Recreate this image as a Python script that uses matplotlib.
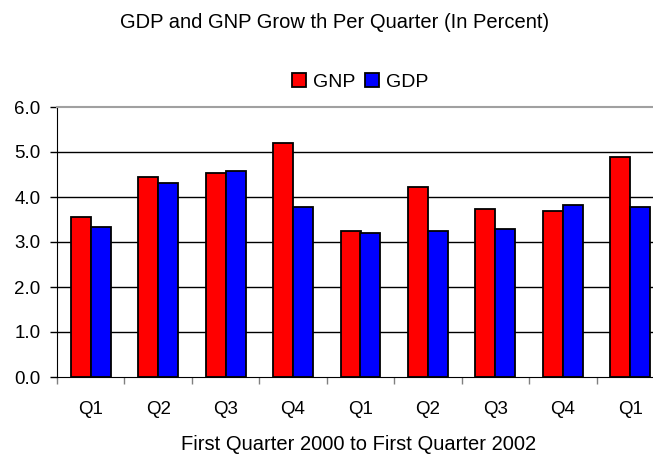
import matplotlib
matplotlib.use("Agg")
import matplotlib.pyplot as plt
import numpy as np

categories = ["Q1", "Q2", "Q3", "Q4", "Q1", "Q2", "Q3", "Q4", "Q1"]
gnp = [3.56, 4.44, 4.53, 5.20, 3.24, 4.22, 3.74, 3.68, 4.88]
gdp = [3.33, 4.31, 4.58, 3.78, 3.19, 3.24, 3.28, 3.82, 3.77]
yticks = [0.0, 1.0, 2.0, 3.0, 4.0, 5.0, 6.0]

plt.rcParams['font.family'] = ['Liberation Sans', 'DejaVu Sans']

W, H = 653, 457
fig = plt.figure(figsize=(W/100, H/100), dpi=100)
left, right, bottom, top = 57, 664, 377, 107
ax = fig.add_axes([left/W, 1-bottom/H, (right-left)/W, (bottom-top)/H])

x = np.arange(len(categories))
bw = 0.296
ax.bar(x - bw/2, gnp, bw, color='#ff0000', edgecolor='black', linewidth=1.3, label='GNP', zorder=3)
ax.bar(x + bw/2, gdp, bw, color='#0000ff', edgecolor='black', linewidth=1.3, label='GDP', zorder=3)

ax.set_xlim(-0.5, len(categories) - 0.5)
ax.set_ylim(0, 6)
ax.set_yticks(yticks)
ax.set_yticklabels([f"{v:.1f}" for v in yticks], fontsize=13.5)
ax.set_xticks(x)
ax.set_xticklabels(categories, fontsize=13.5)
ax.tick_params(axis='x', length=0, pad=17)
ax.set_xticks(np.arange(len(categories) + 1) - 0.5, minor=True)
ax.tick_params(axis='x', which='minor', length=5, color='#808080', width=1)
ax.tick_params(axis='y', length=5, width=1, color='black', pad=7)
for v in yticks[1:-1]:
    ax.axhline(v, color='black', linewidth=1, zorder=1)
ax.spines['top'].set_color('#a0a0a0')
ax.spines['top'].set_linewidth(1.5)
ax.spines['right'].set_visible(False)
ax.spines['left'].set_color('black')
ax.spines['bottom'].set_color('black')

fig.text(359/W, 1-450/H, "First Quarter 2000 to First Quarter 2002", ha='center', va='baseline', fontsize=14.5)
fig.text(334.5/W, 1-28/H, "GDP and GNP Grow th Per Quarter (In Percent)", ha='center', va='baseline', fontsize=14.5)

leg = fig.legend(loc='center', bbox_to_anchor=(360/W, 1-82/H), ncol=2, frameon=False,
                 fontsize=14, handlelength=0.72, handleheight=0.72, handletextpad=0.35,
                 columnspacing=0.5, borderaxespad=0, borderpad=0)

fig.savefig("out.png", dpi=100)
